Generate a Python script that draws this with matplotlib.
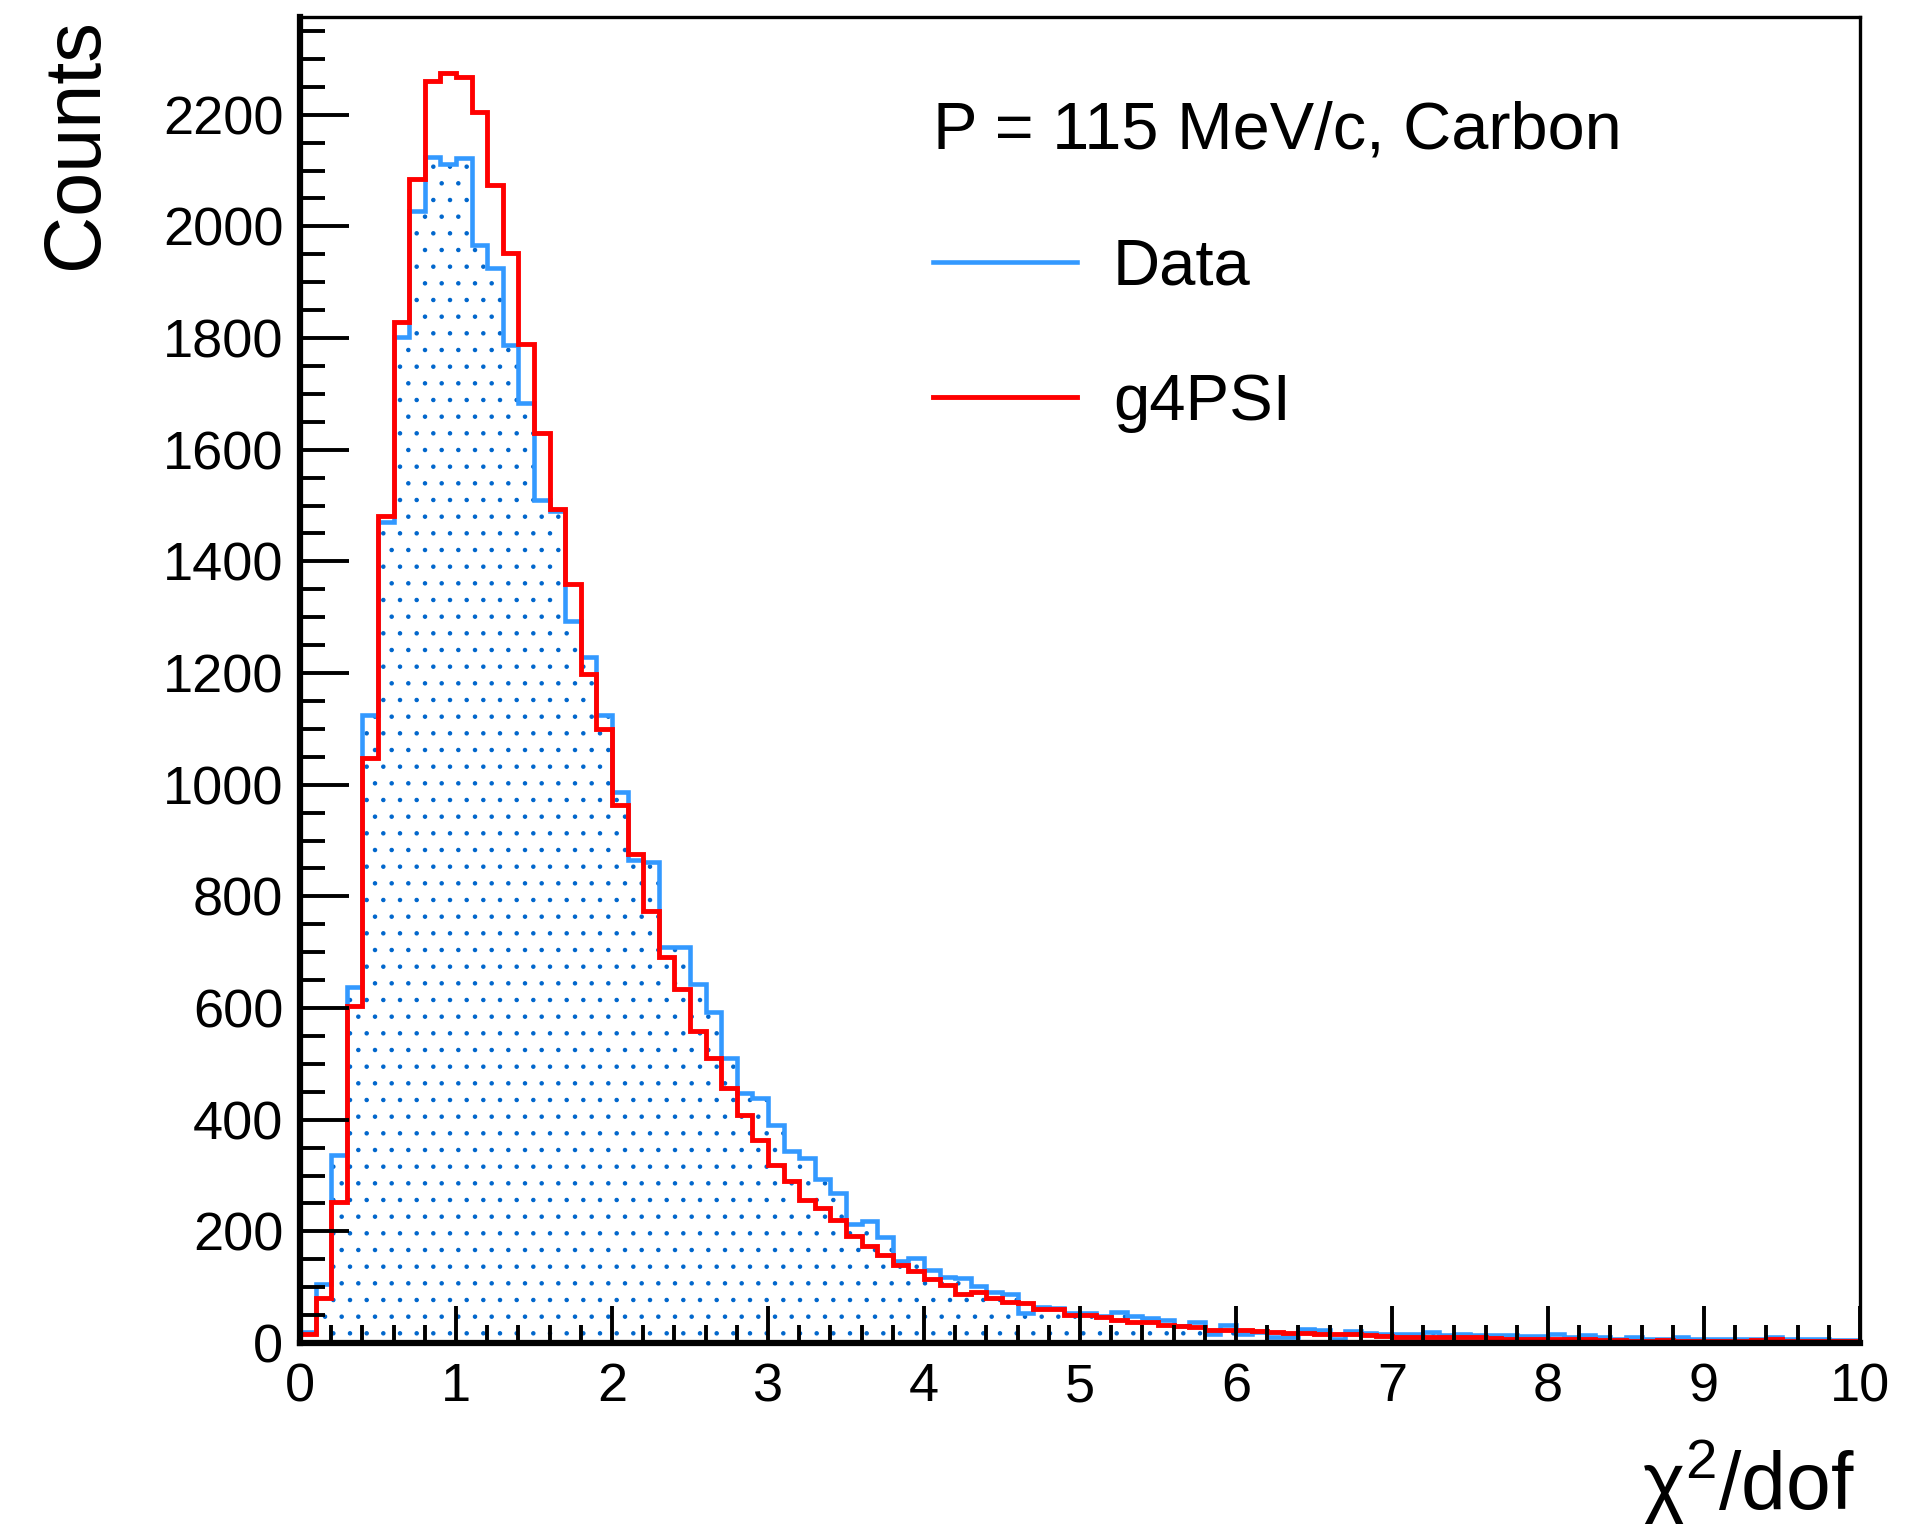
import matplotlib
matplotlib.use("Agg")
import matplotlib.pyplot as plt
from matplotlib.lines import Line2D
from matplotlib.ticker import MultipleLocator
import numpy as np

plt.rcParams['font.family'] = ['Liberation Sans', 'DejaVu Sans']
plt.rcParams['mathtext.fontset'] = 'custom'
plt.rcParams['mathtext.rm'] = 'Liberation Sans'
plt.rcParams['mathtext.default'] = 'regular'
plt.rcParams['hatch.linewidth'] = 0.8

# 100 bins of chi2/dof from 0 to 10
edges = np.linspace(0, 10, 101)

data_counts = [20, 105, 337, 637, 1125, 1471, 1802, 2028, 2125, 2112,
               2122, 1967, 1925, 1788, 1684, 1510, 1490, 1294, 1228, 1124,
               987, 865, 862, 710, 710, 643, 593, 511, 447, 438,
               390, 344, 331, 293, 269, 214, 219, 190, 146, 153,
               130, 119, 116, 102, 92, 87, 53, 65, 62, 53,
               53, 48, 56, 48, 44, 41, 31, 37, 17, 32,
               16, 20, 11, 11, 25, 23, 8, 22, 18, 17,
               17, 16, 20, 14, 16, 14, 14, 14, 12, 12,
               16, 10, 14, 10, 8, 10, 8, 7, 10, 8,
               8, 8, 7, 7, 11, 8, 7, 7, 5, 5]

g4psi_counts = [17, 80, 253, 604, 1047, 1482, 1829, 2084, 2260, 2274,
                2268, 2204, 2074, 1953, 1789, 1630, 1493, 1359, 1199, 1099,
                964, 876, 773, 691, 634, 558, 511, 456, 408, 364,
                319, 290, 256, 242, 220, 192, 173, 158, 140, 129,
                114, 104, 87, 92, 80, 73, 71, 61, 61, 51,
                50, 47, 42, 38, 37, 33, 30, 29, 24, 23,
                23, 22, 20, 18, 18, 17, 16, 16, 14, 12,
                11, 11, 10, 10, 10, 10, 9, 8, 7, 7,
                8, 7, 7, 5, 5, 4, 4, 5, 4, 3,
                4, 4, 4, 5, 7, 4, 3, 3, 3, 3]

blue = '#3399ff'
dots = '#0066cc'
red = '#ff0000'

fig = plt.figure(figsize=(19.11, 15.24), dpi=100)
ax = fig.add_axes([300/1911, 1 - 1343/1524, 1560/1911, 1326/1524])

# dotted fill + outline for data, red outline for simulation
ax.stairs(data_counts, edges, fill=True, facecolor='none', edgecolor=dots,
          hatch='.', linewidth=0)
ax.stairs(data_counts, edges, color=blue, linewidth=3.3, baseline=0)
ax.stairs(g4psi_counts, edges, color=red, linewidth=3.5, baseline=0)

ax.set_xlim(0, 10)
ax.set_ylim(0, 2375)

ax.xaxis.set_major_locator(MultipleLocator(1))
ax.xaxis.set_minor_locator(MultipleLocator(0.2))
ax.yaxis.set_major_locator(MultipleLocator(200))
ax.yaxis.set_minor_locator(MultipleLocator(50))

ax.tick_params(axis='both', which='both', direction='in', width=2.8,
               top=False, right=False, labelsize=39)
ax.tick_params(axis='x', which='major', length=27, pad=14)
ax.tick_params(axis='x', which='minor', length=13)
ax.tick_params(axis='y', which='major', length=35, pad=12)
ax.tick_params(axis='y', which='minor', length=18)

for side in ['left', 'bottom']:
    ax.spines[side].set_linewidth(4.5)
for side in ['top', 'right']:
    ax.spines[side].set_linewidth(2.4)

fig.text(77/1911, 1 - 18/1524, 'Counts', rotation=90, ha='center', va='top',
         fontsize=57)
fig.text(1855/1911, 1 - 1509/1524, 'χ$^{2}$/dof', ha='right', va='baseline',
         fontsize=58)

handles = [Line2D([], [], color=blue, linewidth=3.3),
           Line2D([], [], color=red, linewidth=3.5)]
ax.legend(handles, ['Data', 'g4PSI'], title='P = 115 MeV/c, Carbon',
          loc='upper left', bbox_to_anchor=(0.406, 0.937), frameon=False,
          alignment='left', fontsize=47, title_fontsize=48,
          handlelength=2.2, handletextpad=0.55, labelspacing=1.15,
          borderpad=0, borderaxespad=0)

fig.savefig('out.png', dpi=100)
